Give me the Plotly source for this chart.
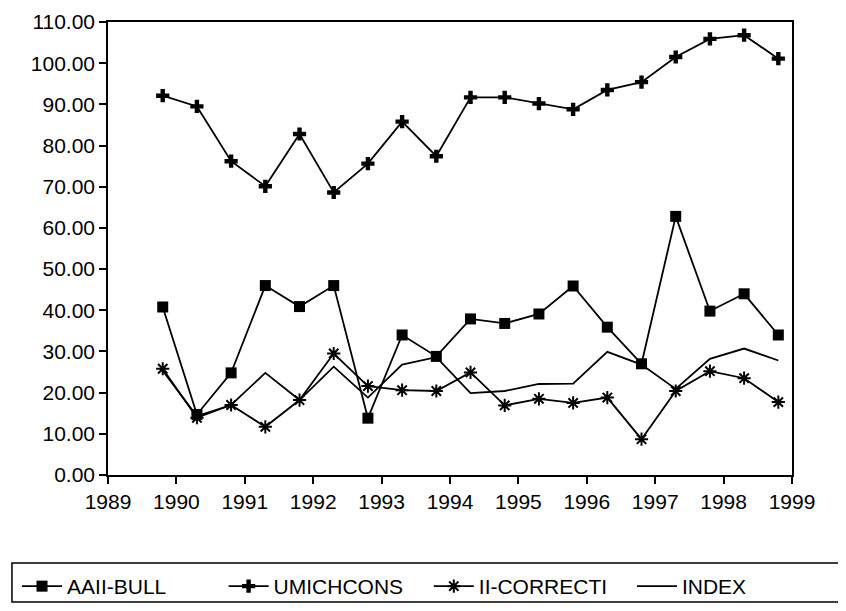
import plotly.graph_objects as go

# half-year observations, decimal years
PERIODS = [1989.8, 1990.3, 1990.8, 1991.3, 1991.8, 1992.3, 1992.8, 1993.3, 1993.8, 1994.3,
           1994.8, 1995.3, 1995.8, 1996.3, 1996.8, 1997.3, 1997.8, 1998.3, 1998.8]

AAII_BULL = [40.8, 14.7, 24.8, 46.0, 40.9, 46.0, 13.8, 34.0, 28.8, 37.9,
             36.8, 39.1, 45.9, 35.9, 27.0, 62.8, 39.8, 44.0, 34.0]
UMICHCONS = [92.1, 89.5, 76.2, 70.1, 82.8, 68.6, 75.6, 85.8, 77.4, 91.7,
             91.7, 90.2, 88.8, 93.5, 95.4, 101.5, 105.9, 106.8, 101.1]
II_CORRECTI = [25.8, 13.9, 17.0, 11.7, 18.2, 29.5, 21.6, 20.6, 20.4, 24.9,
               16.9, 18.5, 17.5, 18.8, 8.7, 20.4, 25.2, 23.5, 17.7]
INDEX = [25.3, 14.3, 17.0, 24.8, 18.2, 26.3, 18.8, 26.8, 28.6, 19.9,
         20.4, 22.1, 22.2, 29.9, 26.8, 20.9, 28.2, 30.7, 27.8]

X_TICKS = list(range(1989, 2000))
Y_TICKS = list(range(0, 111, 10))

FONT = "Arial, Liberation Sans, Helvetica, sans-serif"
LINE = dict(color="black", width=1.8)

fig = go.Figure()

fig.add_trace(go.Scatter(
    x=PERIODS, y=AAII_BULL, mode="lines+markers", name="AAII-BULL",
    line=LINE, marker=dict(symbol="square", size=11, color="black"),
    legend="legend",
))
fig.add_trace(go.Scatter(
    x=PERIODS, y=UMICHCONS, mode="lines+markers", name="UMICHCONS",
    line=LINE, marker=dict(symbol="cross", size=11, color="black"),
    legend="legend2",
))
fig.add_trace(go.Scatter(
    x=PERIODS, y=II_CORRECTI, mode="lines+markers", name="II-CORRECTI",
    line=LINE,
    marker=dict(symbol="asterisk-open", size=11, color="black",
                line=dict(color="black", width=2)),
    legend="legend3",
))
fig.add_trace(go.Scatter(
    x=PERIODS, y=INDEX, mode="lines", name="INDEX", line=LINE,
    legend="legend4",
))

# plot area is 453px tall: legend/box positions in paper units follow from that
PLOT_H = 453
LEG_TOP = (475 - 566) / PLOT_H
BOX_TOP = (475 - 563) / PLOT_H
BOX_BOTTOM = (475 - 602) / PLOT_H

# one small legend per series so they can sit in a single long row
legend_base = dict(
    orientation="h", xanchor="left", y=LEG_TOP, yanchor="top",
    borderwidth=0, bgcolor="rgba(0,0,0,0)",
    font=dict(size=21, color="black"), itemwidth=40,
)
fig.update_layout(
    legend=dict(legend_base, x=-0.133),
    legend2=dict(legend_base, x=0.169),
    legend3=dict(legend_base, x=0.469),
    legend4=dict(legend_base, x=0.766),
)

# box round the legend row
fig.add_shape(
    type="rect", xref="paper", yref="paper",
    x0=-0.1404, x1=1.0746, y0=BOX_TOP, y1=BOX_BOTTOM,
    line=dict(color="black", width=1.5),
)

# page body has an 8px margin, so the figure is 8px smaller than the window
fig.update_layout(
    width=838,
    height=603,
    paper_bgcolor="white",
    plot_bgcolor="white",
    margin=dict(l=100, r=54, t=14, b=136, autoexpand=False),
    font=dict(family=FONT, size=21, color="black"),
    showlegend=True,
)

fig.update_xaxes(
    range=[1989, 1999],
    tickvals=X_TICKS,
    ticktext=[str(v) for v in X_TICKS],
    showgrid=False,
    zeroline=False,
    showline=True,
    linecolor="black",
    linewidth=1.5,
    mirror=True,
    ticks="outside",
    ticklen=7,
    tickwidth=1.5,
    tickcolor="black",
    ticklabeloverflow="allow",
)
fig.update_yaxes(
    range=[0, 110],
    tickvals=Y_TICKS,
    ticktext=[f"{v:.2f}" for v in Y_TICKS],
    showgrid=False,
    zeroline=False,
    showline=True,
    linecolor="black",
    linewidth=1.5,
    mirror=True,
    ticks="outside",
    ticklen=7,
    tickwidth=1.5,
    tickcolor="black",
    ticklabeloverflow="allow",
)

fig.write_html("out.html")
